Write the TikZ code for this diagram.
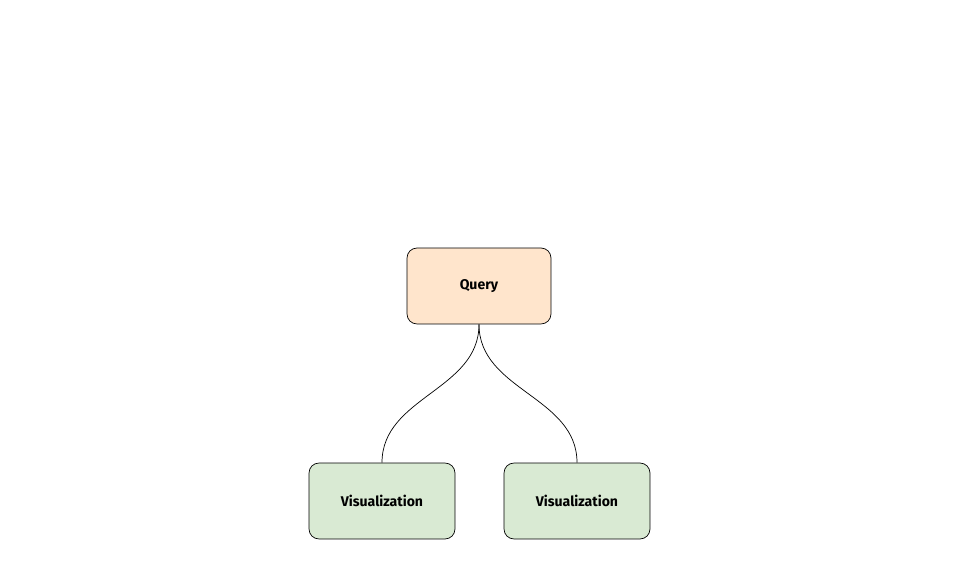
\documentclass[tikz,border=0pt]{standalone}
\usepackage{fontspec}
\setmainfont{Fira Sans}
\begin{document}
\begin{tikzpicture}[x=0.02cm,y=-0.02cm,
  box/.style={draw,rounded corners=0.2cm,minimum width=2.88cm,minimum height=1.52cm,font=\bfseries\fontsize{8}{10}\selectfont},
  link/.style={draw,out=-90,in=90,looseness=1}]
\useasboundingbox (0,0) rectangle (959,573);
\node[box,fill=orange!20] (query) at (479,286) {Query};
\node[box,fill=green!15!white!90!black!100,fill={rgb,255:red,217;green,234;blue,211},minimum width=2.92cm] (visA) at (382,501) {Visualization};
\node[box,fill={rgb,255:red,217;green,234;blue,211},minimum width=2.92cm] (visB) at (577,501) {Visualization};
\draw (query.south) to[out=-90,in=90] (visA.north);
\draw (query.south) to[out=-90,in=90] (visB.north);
\end{tikzpicture}
\end{document}
